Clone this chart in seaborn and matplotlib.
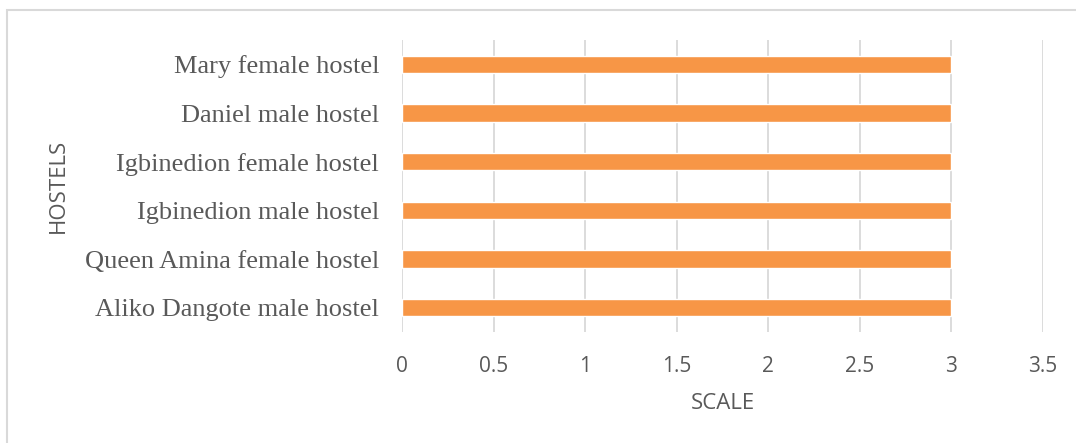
import numpy as np
import pandas as pd
import matplotlib
matplotlib.use('Agg')
import matplotlib.pyplot as plt
import seaborn as sns
from matplotlib.patches import Rectangle

# data (top to bottom)
hostels = ['Mary female hostel', 'Daniel male hostel', 'Igbinedion female hostel',
           'Igbinedion male hostel', 'Queen Amina female hostel', 'Aliko Dangote male hostel']
scale = [3, 3, 3, 3, 3, 3]
x_ticks = [0, 0.5, 1, 1.5, 2, 2.5, 3, 3.5]

df = pd.DataFrame({'Hostel': hostels, 'Scale': scale})

sns.set_theme(style='white')
plt.rcParams['font.family'] = ['Open Sans', 'DejaVu Sans']

fig = plt.figure(figsize=(10.76, 4.43), dpi=100)
ax = fig.add_axes([402 / 1076, 1 - 332 / 443, (1043 - 402) / 1076, (332 - 40) / 443])

sns.barplot(data=df, y='Hostel', x='Scale', orient='h', color='#F79646',
            saturation=1, width=0.36, ax=ax)

ax.set_xlim(0, 3.5)
ax.set_ylim(len(hostels) - 0.5, -0.5)
ax.set_xticks(x_ticks)
ax.set_xticklabels([f'{t:g}' for t in x_ticks])
ax.xaxis.grid(True, color='#d9d9d9', linewidth=1.3)
ax.set_axisbelow(True)
for s in ax.spines.values():
    s.set_visible(False)

ax.tick_params(axis='x', length=0, pad=17.5, labelsize=15, labelcolor='#595959')
ax.tick_params(axis='y', length=0, pad=16.5, labelsize=19, labelcolor='#595959')
for lbl in ax.get_yticklabels():
    lbl.set_fontfamily(['Liberation Serif', 'DejaVu Serif'])

ax.set_xlabel('SCALE', fontsize=16, color='#595959', labelpad=11)
ax.set_ylabel('HOSTELS', fontsize=16, color='#595959')
ax.yaxis.set_label_coords(58 / 1076, 1 - 186 / 443, transform=fig.transFigure)
ax.yaxis.label.set_va('center')

# light chart-area border (only left and top edges visible in the reference)
fig.patches.append(Rectangle((7 / 1076, -0.1), 1.2, 1 - 10 / 443 + 0.1,
                             transform=fig.transFigure, fill=False,
                             edgecolor='#d9d9d9', linewidth=1.5))

fig.savefig('out.png', dpi=100)
